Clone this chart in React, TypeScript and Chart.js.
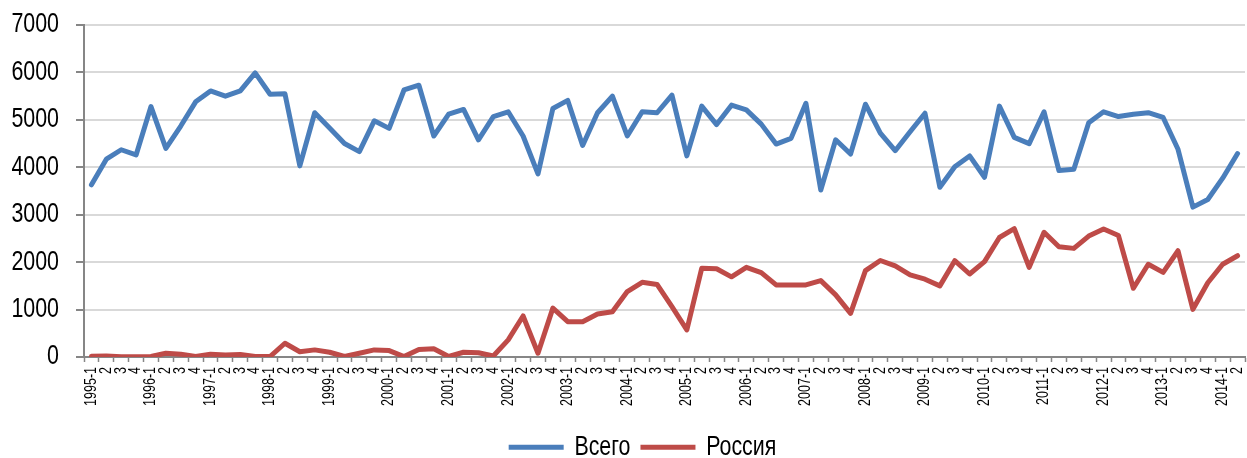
import React, { useEffect, useRef } from 'react';
import { Chart, registerables } from 'chart.js';
Chart.register(...registerables);

const categories = [
  '1995-1','2','3','4','1996-1','2','3','4','1997-1','2','3','4','1998-1','2','3','4',
  '1999-1','2','3','4','2000-1','2','3','4','2001-1','2','3','4','2002-1','2','3','4',
  '2003-1','2','3','4','2004-1','2','3','4','2005-1','2','3','4','2006-1','2','3','4',
  '2007-1','2','3','4','2008-1','2','3','4','2009-1','2','3','4','2010-1','2','3','4',
  '2011-1','2','3','4','2012-1','2','3','4','2013-1','2','3','4','2014-1','2'
];

const totalValues = [
  3630,4170,4370,4260,5280,4400,4870,5380,5610,5500,
  5610,5990,5540,5550,4030,5150,4830,4500,4330,4980,
  4820,5630,5730,4660,5120,5220,4580,5070,5170,4660,
  3860,5240,5410,4460,5150,5500,4660,5170,5150,5520,
  4240,5290,4900,5310,5210,4910,4490,4610,5350,3520,
  4580,4280,5330,4720,4350,4750,5140,3580,4010,4240,
  3790,5290,4630,4500,5170,3930,3960,4940,5170,5070,
  5120,5150,5050,4380,3160,3320,3770,4290
];

const russiaValues = [
  15,20,5,5,10,80,60,10,60,40,
  55,10,10,290,110,150,100,10,80,150,
  135,10,160,175,10,100,90,20,360,865,
  80,1030,745,745,905,955,1380,1575,1530,1060,
  570,1870,1860,1690,1890,1780,1520,1520,1520,1610,
  1310,920,1820,2035,1920,1730,1640,1500,2030,1750,
  2010,2520,2705,1890,2630,2325,2290,2550,2700,2560,
  1450,1955,1785,2240,1005,1565,1955,2135
];

const seriesNames = ['Всего', 'Россия'];
const yTicks = [0, 1000, 2000, 3000, 4000, 5000, 6000, 7000];

const FONT = '"Liberation Sans", Arial, sans-serif';
const TEXT_STRETCH = 1.25;

const legendShift = {
  id: 'legendShift',
  afterLayout(chart: any) {
    const lg = chart.legend;
    if (lg) {
      lg.left += 20;
      lg.right += 20;
      lg.top += 10;
      lg.bottom += 10;
    }
  },
};

export default function App() {
  const ref = useRef<HTMLCanvasElement | null>(null);
  useEffect(() => {
    const canvas = ref.current;
    if (!canvas) return;
    const ctx = canvas.getContext('2d') as CanvasRenderingContext2D;
    const origFill = ctx.fillText;
    (ctx as any).fillText = function (text: string, x: number, y: number, maxWidth?: number) {
      this.save();
      this.translate(x, y);
      this.scale(1, TEXT_STRETCH);
      if (maxWidth !== undefined) origFill.call(this, text, 0, 0, maxWidth);
      else origFill.call(this, text, 0, 0);
      this.restore();
    };
    const chart = new Chart(ctx, {
      type: 'line',
      data: {
        labels: categories,
        datasets: [
          {
            label: seriesNames[0],
            data: totalValues,
            borderColor: '#4a7ebb',
            backgroundColor: '#4a7ebb',
            borderWidth: 5,
            pointRadius: 0,
            tension: 0,
            borderJoinStyle: 'round',
            borderCapStyle: 'round',
          },
          {
            label: seriesNames[1],
            data: russiaValues,
            borderColor: '#be4b48',
            backgroundColor: '#be4b48',
            borderWidth: 5,
            pointRadius: 0,
            tension: 0,
            borderJoinStyle: 'round',
            borderCapStyle: 'round',
          },
        ],
      },
      plugins: [legendShift],
      options: {
        animation: false,
        responsive: false,
        maintainAspectRatio: false,
        layout: { padding: { left: 0, right: 2, top: 25, bottom: 0 } },
        scales: {
          x: {
            type: 'category',
            offset: true,
            afterFit: (scale: any) => {
              scale.height = 59.6;
              scale.paddingLeft = 0;
              scale.paddingRight = 0;
            },
            grid: {
              offset: true,
              drawOnChartArea: false,
              drawTicks: true,
              tickLength: 5,
              tickColor: '#868686',
              tickWidth: 1.5,
            },
            border: { color: '#868686', width: 2 },
            ticks: {
              autoSkip: false,
              minRotation: 90,
              maxRotation: 90,
              padding: 5,
              color: '#000',
              font: { family: FONT, size: 12.5 },
            },
          },
          y: {
            min: 0,
            max: 7000,
            afterBuildTicks: (scale: any) => {
              scale.ticks = yTicks.map((v) => ({ value: v }));
            },
            afterFit: (scale: any) => {
              scale.width = 84;
              scale.paddingTop = 0;
              scale.paddingBottom = 0;
            },
            grid: {
              color: '#d9d9d9',
              lineWidth: 2,
              tickColor: '#868686',
              tickLength: 8,
            },
            border: { color: '#868686', width: 2 },
            ticks: {
              padding: 17,
              color: '#000',
              font: { family: FONT, size: 21.4 },
              callback: (v: any) => String(v),
            },
          },
        },
        plugins: {
          tooltip: { enabled: false },
          legend: {
            position: 'bottom',
            labels: {
              boxWidth: 55,
              boxHeight: 5,
              padding: 10,
              color: '#000',
              font: { family: FONT, size: 21.4 },
              generateLabels: (c: any) =>
                (Chart.defaults.plugins.legend.labels as any)
                  .generateLabels(c)
                  .map((l: any) => ({ ...l, lineWidth: 0 })),
            },
          },
        },
      },
    });
    return () => {
      chart.destroy();
      (ctx as any).fillText = origFill;
    };
  }, []);
  return (
    <div style={{ position: 'absolute', left: 0, top: 0, width: 1247, height: 458 }}>
      <canvas ref={ref} width={1247} height={458} style={{ width: 1247, height: 458 }} />
    </div>
  );
}
